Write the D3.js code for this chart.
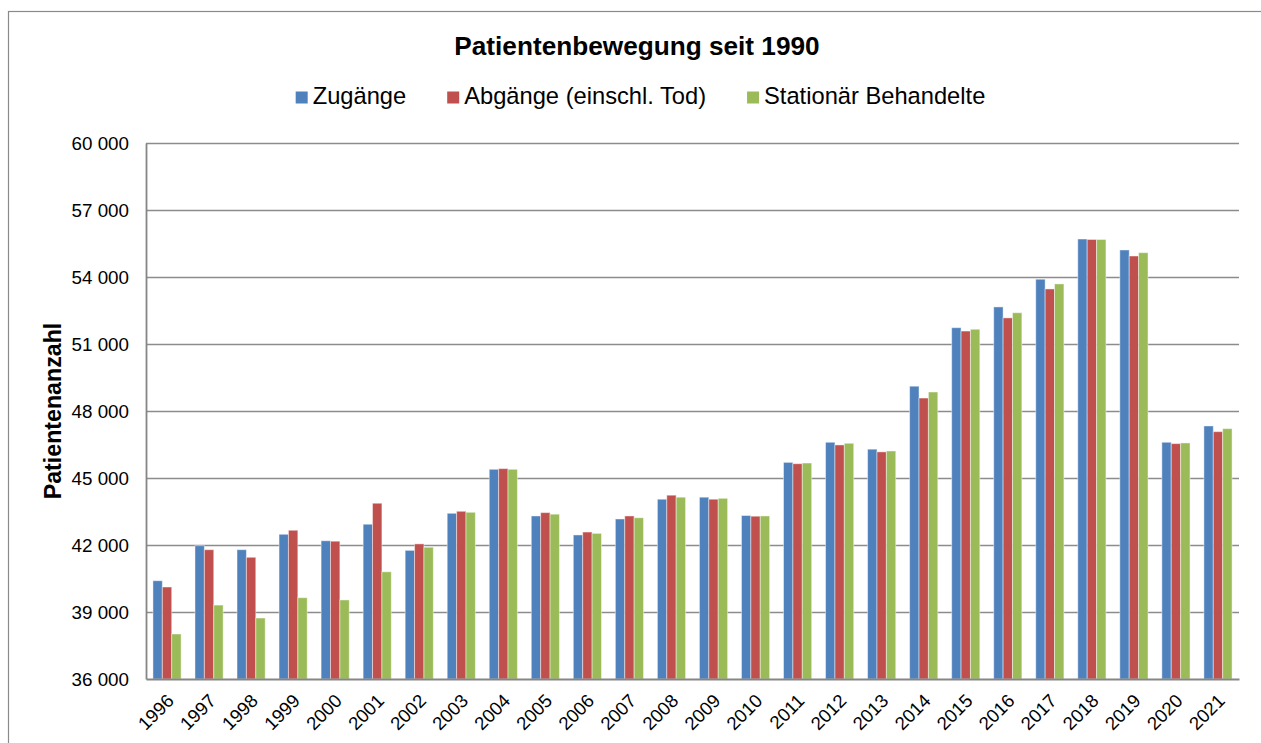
<!DOCTYPE html>
<html>
<head>
<meta charset="utf-8">
<script src="https://cdn.jsdelivr.net/npm/d3@7"></script>
<style>
  html, body { margin: 0; padding: 0; background: #fff; }
  svg { display: block; font-family: "Liberation Sans", Arial, sans-serif; }
</style>
</head>
<body>
<svg id="chart" width="1261" height="743"></svg>
<script>
// Jahre (Kategorien)
const years = ["1996","1997","1998","1999","2000","2001","2002","2003","2004","2005","2006","2007","2008",
               "2009","2010","2011","2012","2013","2014","2015","2016","2017","2018","2019","2020","2021"];

// Patientenbewegung je Jahr
const zugaenge = [40400,41970,41790,42480,42190,42930,41760,43420,45390,43300,42450,43165,44050,
                  44140,43320,45700,46600,46290,49110,51730,52660,53900,55700,55210,46600,47330];
const abgaenge = [40120,41790,41450,42660,42170,43870,42050,43510,45420,43450,42580,43300,44230,
                  44050,43290,45640,46480,46170,48580,51580,52170,53465,55680,54940,46540,47075];
const stationaer = [38015,39310,38730,39640,39540,40800,41900,43465,45390,43380,42520,43220,44140,
                    44090,43300,45670,46555,46210,48850,51660,52400,53690,55680,55090,46570,47210];

const seriesNames = ["Zugänge", "Abgänge (einschl. Tod)", "Stationär Behandelte"];
const seriesColors = ["#4F81BD", "#C0504D", "#9BBB59"];
const yTicks = [36000, 39000, 42000, 45000, 48000, 51000, 54000, 57000, 60000];

const series = [zugaenge, abgaenge, stationaer];
const svg = d3.select("#chart");

// Plotbereich
const plot = { left: 146, right: 1239, top: 143, bottom: 679 };

// Äußerer Rahmen
svg.append("rect")
  .attr("x", 8.5).attr("y", 11.5)
  .attr("width", 1270).attr("height", 760)
  .attr("fill", "none").attr("stroke", "#8a8a8a").attr("stroke-width", 1.2);

const x = d3.scaleBand().domain(years)
  .range([plot.left, plot.right])
  .paddingInner(0.33).paddingOuter(0.165);
const xs = d3.scaleBand().domain(d3.range(series.length)).range([0, x.bandwidth()]);
const y = d3.scaleLinear().domain([36000, 60000]).range([plot.bottom, plot.top]);

const fmt = v => d3.format(",")(v).replace(/,/g, " ");

// Gitterlinien
svg.append("g")
  .selectAll("line").data(yTicks.filter(t => t > 36000)).join("line")
  .attr("x1", plot.left).attr("x2", plot.right)
  .attr("y1", d => Math.round(y(d)) + 0.5).attr("y2", d => Math.round(y(d)) + 0.5)
  .attr("stroke", "#8c8c8c").attr("stroke-width", 1.6);

// Y-Achse
const yAxis = svg.append("g")
  .attr("transform", `translate(${plot.left},0)`)
  .call(d3.axisLeft(y).tickValues(yTicks).tickFormat(fmt).tickSize(0).tickPadding(17));
yAxis.select(".domain").attr("stroke", "#868686").attr("stroke-width", 1.8);
yAxis.selectAll("text").attr("font-size", 18.8).attr("fill", "#000")
  .attr("font-family", "'Liberation Sans', Arial, sans-serif");

// Balken
const groups = svg.append("g").selectAll("g").data(years).join("g")
  .attr("transform", d => `translate(${x(d)},0)`);
groups.selectAll("rect")
  .data((d, i) => series.map((s, k) => ({ k, v: s[i] })))
  .join("rect")
  .attr("x", d => xs(d.k))
  .attr("width", xs.bandwidth())
  .attr("y", d => y(d.v))
  .attr("height", d => plot.bottom - y(d.v))
  .attr("fill", d => seriesColors[d.k])
  .attr("stroke", "rgba(255,255,255,0.45)").attr("stroke-width", 1);

// X-Achse
const xAxis = svg.append("g")
  .attr("transform", `translate(0,${plot.bottom})`)
  .call(d3.axisBottom(x).tickSize(0).tickPadding(0));
xAxis.select(".domain").attr("stroke", "#868686").attr("stroke-width", 2.2);
xAxis.selectAll("text")
  .attr("font-size", 18.6).attr("fill", "#000")
  .attr("font-family", "'Liberation Sans', Arial, sans-serif")
  .attr("text-anchor", "end")
  .attr("dy", 0)
  .attr("transform", "translate(8,23) rotate(-45)");

// Titel
svg.append("text")
  .attr("x", 637).attr("y", 54.5)
  .attr("text-anchor", "middle")
  .attr("font-size", 26.2).attr("font-weight", "bold")
  .text("Patientenbewegung seit 1990");

// Y-Achsentitel
svg.append("text")
  .attr("transform", "translate(61,411) rotate(-90)")
  .attr("text-anchor", "middle")
  .attr("font-size", 23.2).attr("font-weight", "bold")
  .text("Patientenanzahl");

// Legende
const legend = svg.append("g");
const items = legend.selectAll("g").data(seriesNames).join("g");
items.append("rect")
  .attr("width", 12).attr("height", 12).attr("y", 91.5)
  .attr("fill", (d, i) => seriesColors[i]);
items.append("text")
  .attr("x", 17).attr("y", 103.5)
  .attr("font-size", 23.7)
  .text(d => d);
let cursor = 0;
const widths = [];
items.each(function () {
  widths.push(d3.select(this).select("text").node().getComputedTextLength() + 17);
});
const gap = 41;
const total = d3.sum(widths) + gap * (widths.length - 1);
cursor = 640.5 - total / 2;
items.attr("transform", (d, i) => {
  const t = `translate(${cursor},0)`;
  cursor += widths[i] + gap;
  return t;
});
</script>
</body>
</html>
